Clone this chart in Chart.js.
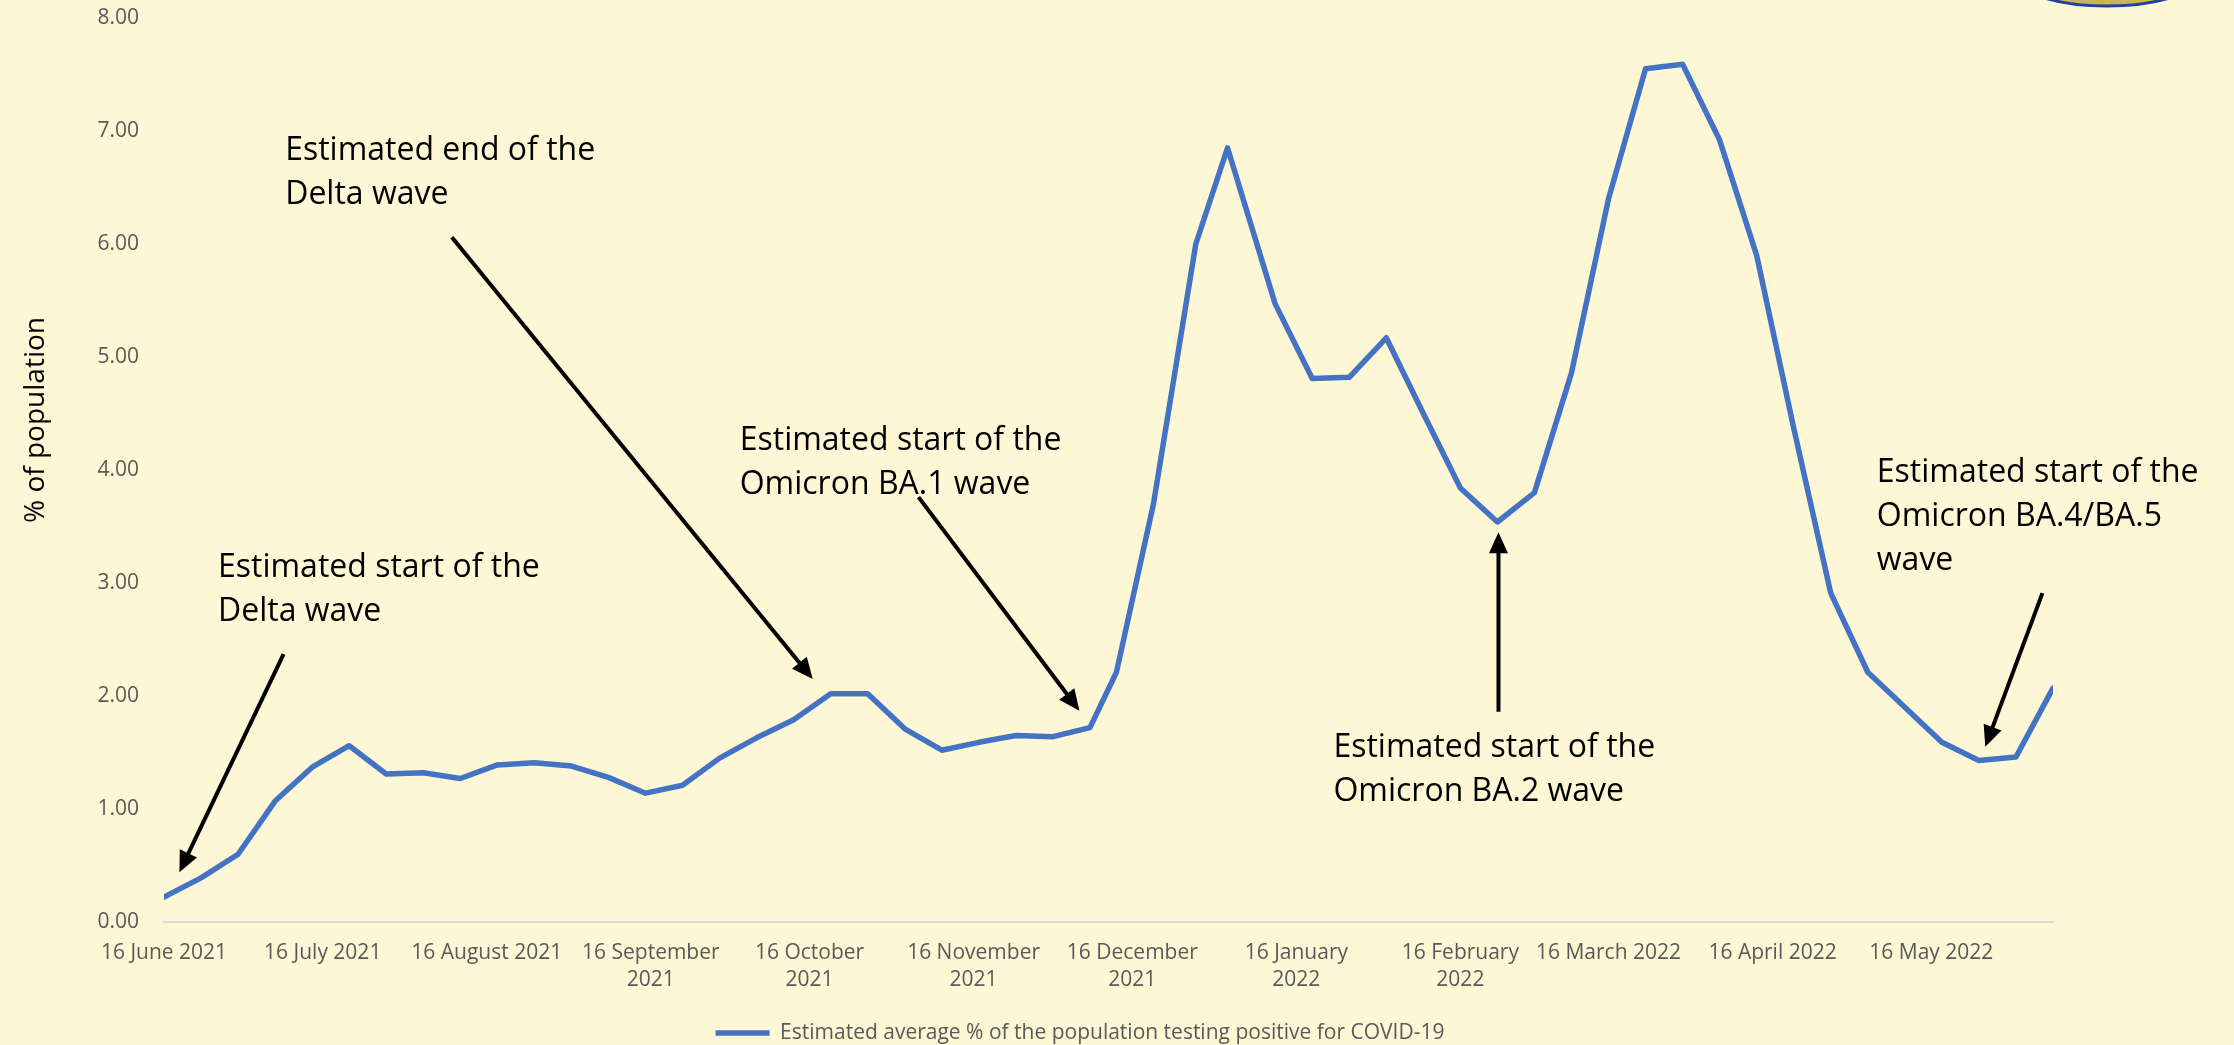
<!DOCTYPE html>
<html>
<head>
<meta charset="utf-8">
<title>Estimated average % of the population testing positive for COVID-19</title>
<script src="https://cdn.jsdelivr.net/npm/chart.js@4.4.1/dist/chart.umd.min.js"></script>
<style>
    html, body { margin: 0; padding: 0; background: #FDF7D5; }
    #wrap { width: 2234px; height: 1045px; }
</style>
</head>
<body>
<div id="wrap"><canvas id="positivityChart" width="2234" height="1045"></canvas></div>
<script>
const seriesLabel = 'Estimated average % of the population testing positive for COVID-19';

// survey dates, as days after 16 June 2021
const surveyDays = [0, 7, 14, 21, 28, 35, 42, 49, 56, 63, 70, 77, 84, 91, 98, 105, 112, 119, 126,
    133, 140, 147, 154, 161, 168, 175, 180, 187, 195, 201, 210, 217, 224, 231, 238, 245, 252, 259,
    266, 273, 280, 287, 294, 301, 308, 315, 322, 329, 336, 343, 350, 357];
const positivity = [0.22, 0.39, 0.60, 1.07, 1.37, 1.56, 1.31, 1.32, 1.27, 1.39, 1.41, 1.38, 1.28,
    1.14, 1.21, 1.45, 1.63, 1.79, 2.02, 2.02, 1.71, 1.52, 1.59, 1.65, 1.64, 1.72, 2.21, 3.70, 6.00,
    6.85, 5.47, 4.81, 4.82, 5.17, 4.50, 3.84, 3.54, 3.80, 4.86, 6.40, 7.55, 7.59, 6.92, 5.90, 4.37,
    2.91, 2.21, 1.90, 1.59, 1.43, 1.46, 2.07];

const tickDays = [0, 30, 61, 92, 122, 153, 183, 214, 245, 273, 304, 334];
const tickLabels = ['16 June 2021', '16 July 2021', '16 August 2021', ['16 September', '2021'],
    ['16 October', '2021'], ['16 November', '2021'], ['16 December', '2021'], ['16 January', '2022'],
    ['16 February', '2022'], '16 March 2022', '16 April 2022', '16 May 2022'];
const yTicks = [0, 1, 2, 3, 4, 5, 6, 7, 8];

// callouts, placed in axis units (day, %)
const notes = [
    { lines: ['Estimated start of the', 'Delta wave'], x: 10.2, y: 3.13 },
    { lines: ['Estimated end of the', 'Delta wave'], x: 22.9, y: 6.82 },
    { lines: ['Estimated start of the', 'Omicron BA.1 wave'], x: 108.8, y: 4.26 },
    { lines: ['Estimated start of the', 'Omicron BA.2 wave'], x: 221.0, y: 1.54 },
    { lines: ['Estimated start of the', 'Omicron BA.4/BA.5', 'wave'], x: 323.7, y: 3.97 }
];
const arrows = [
    { from: [22.6, 2.37], to: [2.9, 0.44] },
    { from: [54.4, 6.06], to: [122.6, 2.15] },
    { from: [142.6, 3.76], to: [173.0, 1.87] },
    { from: [252.2, 1.86], to: [252.2, 3.45] },
    { from: [355.0, 2.91], to: [344.2, 1.55] }
];

const bgColor = '#FDF7D5';
const tickColor = '#595959';
const fontFamily = '"Open Sans", "Noto Sans", sans-serif';

const backgroundPlugin = {
    id: 'background',
    beforeDraw(chart) {
        const c = chart.ctx;
        c.save();
        c.fillStyle = bgColor;
        c.fillRect(0, 0, chart.width, chart.height);
        c.restore();
    },
    afterDraw(chart) {
        // corner of the logo that pokes in at the top
        const c = chart.ctx;
        c.save();
        c.beginPath();
        c.ellipse(2107, -24, 92, 30, 0, 0, Math.PI * 2);
        c.fillStyle = '#C8B64E';
        c.fill();
        c.lineWidth = 3;
        c.strokeStyle = '#23409A';
        c.stroke();
        c.restore();
    }
};

const notesPlugin = {
    id: 'notes',
    afterDatasetsDraw(chart) {
        const c = chart.ctx;
        const xs = chart.scales.x;
        const ys = chart.scales.y;
        c.save();

        // y axis title
        c.translate(36, 420);
        c.rotate(-Math.PI / 2);
        c.font = '28px ' + fontFamily;
        c.fillStyle = '#000000';
        c.textAlign = 'center';
        c.textBaseline = 'middle';
        c.fillText('% of population', 0, 0);
        c.setTransform(1, 0, 0, 1, 0, 0);

        c.font = '32px ' + fontFamily;
        c.textAlign = 'left';
        notes.forEach(n => {
            const px = xs.getPixelForValue(n.x);
            const py = ys.getPixelForValue(n.y);
            n.lines.forEach((line, i) => c.fillText(line, px, py + i * 44));
        });

        c.strokeStyle = '#000000';
        c.lineWidth = 4;
        arrows.forEach(a => {
            const x1 = xs.getPixelForValue(a.from[0]);
            const y1 = ys.getPixelForValue(a.from[1]);
            const x2 = xs.getPixelForValue(a.to[0]);
            const y2 = ys.getPixelForValue(a.to[1]);
            const ang = Math.atan2(y2 - y1, x2 - x1);
            const head = 21;
            const half = 9.5;
            c.beginPath();
            c.moveTo(x1, y1);
            c.lineTo(x2 - Math.cos(ang) * head * 0.8, y2 - Math.sin(ang) * head * 0.8);
            c.stroke();
            c.beginPath();
            c.moveTo(x2, y2);
            c.lineTo(x2 - head * Math.cos(ang) + half * Math.sin(ang), y2 - head * Math.sin(ang) - half * Math.cos(ang));
            c.lineTo(x2 - head * Math.cos(ang) - half * Math.sin(ang), y2 - head * Math.sin(ang) + half * Math.cos(ang));
            c.closePath();
            c.fill();
        });
        c.restore();
    }
};

const ctx = document.getElementById('positivityChart').getContext('2d');
const positivityChart = new Chart(ctx, {
    type: 'line',
    data: {
        datasets: [{
            label: seriesLabel,
            data: surveyDays.map((d, i) => ({ x: d, y: positivity[i] })),
            borderColor: '#4472C4',
            backgroundColor: '#4472C4',
            borderWidth: 5.5,
            borderCapStyle: 'round',
            borderJoinStyle: 'round',
            pointRadius: 0,
            tension: 0
        }]
    },
    options: {
        responsive: false,
        animation: false,
        devicePixelRatio: 1,
        layout: { padding: { left: 0, right: 74, top: 18, bottom: 0 } },
        plugins: {
            legend: {
                position: 'bottom',
                maxHeight: 25,
                labels: {
                    usePointStyle: true,
                    pointStyle: 'line',
                    pointStyleWidth: 54,
                    padding: 2.5,
                    color: tickColor,
                    font: { family: fontFamily, size: 21 }
                }
            },
            tooltip: { enabled: false }
        },
        scales: {
            x: {
                type: 'linear',
                min: 0,
                max: 357,
                afterBuildTicks: s => { s.ticks = tickDays.map(v => ({ value: v })); },
                afterFit: s => { s.height = 98; },
                ticks: {
                    callback: v => tickLabels[tickDays.indexOf(v)],
                    autoSkip: false,
                    maxRotation: 0,
                    minRotation: 0,
                    padding: 17,
                    color: tickColor,
                    font: { family: fontFamily, size: 21, lineHeight: 1.3 }
                },
                grid: { display: false, drawTicks: false },
                border: { display: true, color: '#D9D9D9', width: 2 }
            },
            y: {
                min: 0,
                max: 8,
                afterBuildTicks: s => { s.ticks = yTicks.map(v => ({ value: v })); },
                afterFit: s => {
                    s.width = 164;
                    s.paddingTop = 0;
                    s.paddingBottom = 0;
                },
                ticks: {
                    callback: v => v.toFixed(2),
                    padding: 25,
                    color: tickColor,
                    font: { family: fontFamily, size: 21 }
                },
                grid: { display: false, drawTicks: false },
                border: { display: false }
            },
            yRight: {
                position: 'right',
                min: 0,
                max: 8,
                afterFit: s => {
                    s.width = 107;
                    s.paddingTop = 0;
                    s.paddingBottom = 0;
                },
                ticks: { display: false },
                grid: { display: false, drawTicks: false },
                border: { display: false }
            }
        }
    },
    plugins: [backgroundPlugin, notesPlugin]
});
</script>
</body>
</html>
